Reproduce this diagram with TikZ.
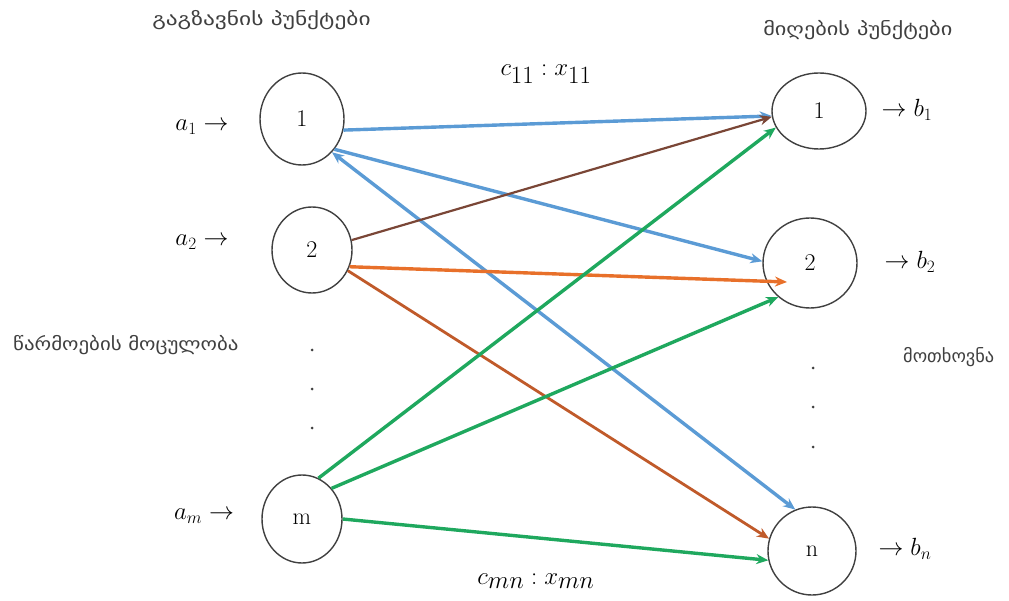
\documentclass[tikz,border=0pt]{standalone}
\usepackage{fontspec}
\newfontfamily\geo{DejaVu Sans}
\usetikzlibrary{arrows.meta,shapes.geometric,calc}
\definecolor{cblue}{HTML}{5B9BD5}
\definecolor{cgreen}{HTML}{1FA85E}
\definecolor{corange}{HTML}{E8702A}
\definecolor{cbrown}{HTML}{7A4636}
\definecolor{cobrown}{HTML}{C05A2A}
\begin{document}
\begin{tikzpicture}[x=1pt,y=-1pt,
  pnt/.style={draw=black!75, line width=1.4pt, ellipse, inner sep=0pt, font=\fontsize{24}{24}\selectfont},
  con/.style={line width=3.4pt, -{Stealth[length=12pt,width=10pt]}},
  geolab/.style={font=\geo\fontsize{18}{18}\selectfont, text=black!75, inner sep=0pt},
  side/.style={font=\fontsize{23}{23}\selectfont, inner sep=0pt},
  dotm/.style={circle, fill=black!75, inner sep=0pt, minimum size=3pt},
  costlab/.style={font=\fontsize{33}{33}\selectfont, inner sep=0pt}
]
\useasboundingbox (0,0) rectangle (1009,601);
% left nodes
\node[pnt, minimum width=84pt, minimum height=92pt] (L1) at (302,119) {1};
\node[pnt, minimum width=80pt, minimum height=86pt] (L2) at (312,250) {2};
\node[pnt, minimum width=80pt, minimum height=88pt] (Lm) at (302,519) {m};
% right nodes
\node[pnt, minimum width=94pt, minimum height=76pt] (R1) at (819,111) {1};
\node[pnt, minimum width=94pt, minimum height=90pt] (R2) at (810,263) {2};
\node[pnt, minimum width=88pt, minimum height=88pt] (Rn) at (812,551) {n};
% dots
\node[dotm] (dl1) at (312,350) {};
\node[dotm] (dl2) at (312,389) {};
\node[dotm] (dl3) at (312,428) {};
\node[dotm] (dr1) at (813,368) {};
\node[dotm] (dr2) at (813,407) {};
\node[dotm] (dr3) at (813,447) {};
% side labels
\node[side] (a1) at (202,127) {$a_1\rightarrow$};
\node[side] (a2) at (202,242) {$a_2\rightarrow$};
\node[side] (am) at (204,516) {$a_m\rightarrow$};
\node[side] (b1) at (907,110) {$\rightarrow b_1$};
\node[side] (b2) at (910,262) {$\rightarrow b_2$};
\node[side] (bn) at (905,549) {$\rightarrow b_n$};
% georgian labels
\node[geolab, anchor=west, xscale=1.3] (t1) at (152,20) {გაგზავნის პუნქტები};
\node[geolab, anchor=west, xscale=1.24] (t2) at (763,30) {მიღების პუნქტები};
\node[geolab, anchor=west, xscale=1.16] (t3) at (13,345) {წარმოების მოცულობა};
\node[geolab, anchor=west, xscale=1.02] (t4) at (903,357) {მოთხოვნა};
% cost labels
\node[costlab] (c11) at (546,74) {$c_{11}:x_{11}$};
\node[costlab] (cmn) at (536,581) {$c_{mn}:x_{mn}$};
% connectors
\draw[con, cblue] (L1.-15) -- (R1.186);
\draw[con, cblue] (L1.-43) -- (R2.178);
\draw[con, cblue, {Stealth[length=12pt,width=10pt]}-{Stealth[length=12pt,width=10pt]}] (L1.-48) -- (Rn.112);
\draw[con, cbrown, line width=2.2pt] (L2.14) -- (R1.187);
\draw[con, corange] (L2.-24) -- ($(R2.center)+(-23,19)$);
\draw[con, cobrown, line width=2.8pt] (L2.-30) -- (Rn.164);
\draw[con, cgreen] (Lm.68) -- (R1.201);
\draw[con, cgreen] (Lm.46) -- (R2.227);
\draw[con, cgreen] (Lm.0) -- (Rn.192);
\end{tikzpicture}
\end{document}
